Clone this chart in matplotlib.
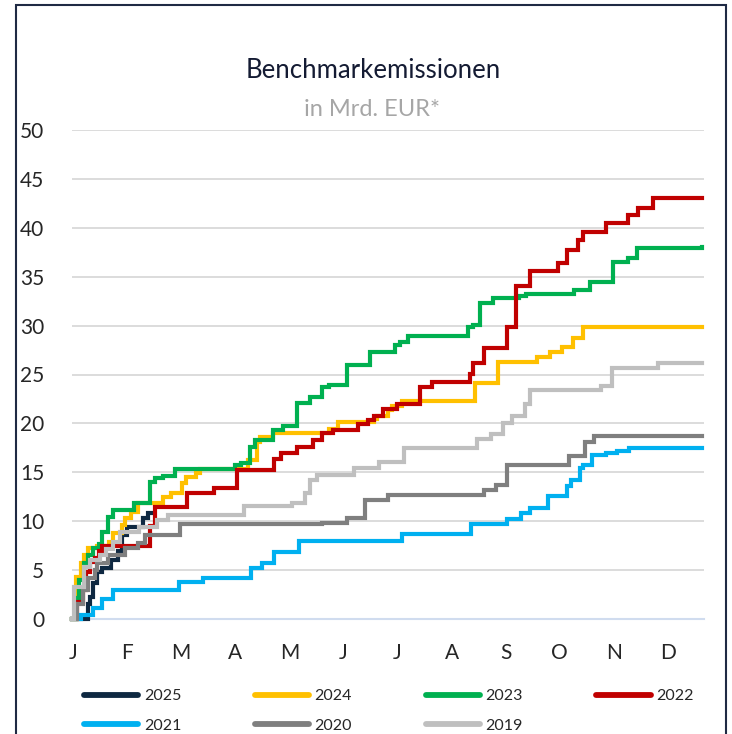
import matplotlib.pyplot as plt
from matplotlib.lines import Line2D
from matplotlib.patches import Rectangle

plt.rcParams['font.family'] = ['Lato', 'DejaVu Sans']

# day of year where a step starts, cumulative volume (bn EUR)
d2025 = [0, 7, 9, 10, 12, 14, 17, 22, 26, 28, 31, 40, 43, 46]
v2025 = [0, 0, 1.5, 2.2, 3.7, 4.8, 5.2, 6.0, 7.0, 8.6, 9.4, 10.3, 10.8, 10.8]

d2024 = [0, 2, 5, 7, 9, 14, 21, 23, 28, 30, 33, 37, 51, 56, 62, 64, 70, 72, 99, 104, 106,
         113, 145, 150, 170, 172, 178, 180, 186, 227, 240, 262, 269, 276, 282, 288, 355]
v2024 = [0, 4.3, 5.7, 6.5, 7.3, 7.5, 7.9, 8.8, 9.6, 10.3, 10.9, 11.9, 12.5, 12.9, 13.9, 14.5, 14.9, 15.3, 16.3, 18.1, 18.6,
         19.0, 19.4, 20.1, 20.4, 20.8, 21.4, 21.8, 22.3, 24.1, 26.3, 26.8, 27.3, 27.8, 28.7, 29.9, 29.9]

d2023 = [0, 2, 4, 7, 9, 12, 15, 17, 20, 23, 35, 44, 47, 51, 58, 92, 95, 100, 103, 113, 119, 127, 134, 141,
         145, 155, 168, 182, 185, 189, 223, 226, 230, 237, 252, 256, 283, 292, 305, 313, 318, 355]
v2023 = [0, 2.1, 4.0, 5.7, 6.5, 7.3, 7.7, 8.9, 10.4, 11.1, 11.9, 14.0, 14.4, 14.6, 15.3, 15.7, 15.9, 17.6, 18.3, 19.3, 19.7, 22.1, 22.7, 23.7,
         23.9, 26.0, 27.3, 28.0, 28.3, 28.9, 29.9, 30.1, 32.3, 32.8, 33.0, 33.2, 33.6, 34.5, 36.5, 36.9, 37.9, 38.0]

d2022 = [0, 3, 6, 8, 10, 13, 15, 17, 44, 47, 65, 80, 93, 114, 118, 127, 136, 141, 147, 161, 167, 170, 175,
         183, 196, 203, 224, 226, 232, 245, 250, 258, 274, 279, 285, 288, 301, 313, 319, 327, 355]
v2022 = [0, 1.7, 3.0, 4.8, 5.8, 6.2, 7.0, 7.5, 9.5, 11.5, 12.9, 13.4, 15.2, 16.4, 17.0, 17.6, 18.3, 19.0, 19.3, 19.9, 20.3, 20.8, 21.5,
         22.0, 23.7, 24.2, 25.1, 26.2, 27.7, 29.9, 34.0, 35.6, 36.4, 37.7, 38.8, 39.6, 40.5, 41.3, 42.0, 43.0, 43.0]

d2021 = [0, 5, 12, 17, 23, 60, 74, 101, 107, 114, 128, 186, 225, 245, 253, 258, 268, 279, 281, 286, 288,
         293, 301, 307, 314, 355]
v2021 = [0, 0.4, 1.1, 2.0, 3.0, 3.8, 4.2, 5.2, 5.7, 6.8, 8.0, 8.7, 9.7, 10.2, 10.8, 11.3, 12.6, 13.6, 14.2, 15.4, 15.7,
         16.8, 17.0, 17.2, 17.5, 17.5]

d2020 = [0, 3, 6, 9, 13, 14, 20, 30, 37, 41, 61, 141, 155, 165, 178, 232, 239, 245, 280, 289, 294, 355]
v2020 = [0, 1.5, 3.0, 4.2, 5.0, 5.7, 6.5, 7.3, 7.8, 8.6, 9.7, 9.8, 10.3, 12.2, 12.7, 13.2, 13.7, 15.7, 16.7, 18.1, 18.7, 18.7]

d2019 = [0, 1, 7, 10, 16, 19, 23, 27, 38, 48, 54, 97, 124, 131, 134, 138, 159, 173, 187, 228, 236, 243,
         248, 255, 258, 298, 304, 330, 355]
v2019 = [0, 3.3, 5.3, 6.0, 6.5, 7.2, 7.9, 8.9, 9.4, 10.1, 10.6, 11.6, 11.9, 12.9, 14.2, 14.7, 15.4, 16.1, 17.5, 18.4, 18.9, 20.0,
         20.8, 22.0, 23.4, 23.8, 25.7, 26.2, 26.2]

years = ['2025', '2024', '2023', '2022', '2021', '2020', '2019']
days = [d2025, d2024, d2023, d2022, d2021, d2020, d2019]
values = [v2025, v2024, v2023, v2022, v2021, v2020, v2019]
colors = ['#0E2841', '#FFC000', '#00B050', '#C00000', '#00B0F0', '#7F7F7F', '#BFBFBF']

months = ['J', 'F', 'M', 'A', 'M', 'J', 'J', 'A', 'S', 'O', 'N', 'D']
month_pos = [0.5 + i * 30.47 for i in range(12)]

fig = plt.figure(figsize=(7.32, 7.34), dpi=100)
ax = fig.add_axes([72 / 732, 1 - 619 / 734, (704 - 72) / 732, (619 - 130) / 734])

for y in range(5, 51, 5):
    ax.axhline(y, color='#D9D9D9', lw=1.3, zorder=0)
ax.axhline(0, color='#D0DCEF', lw=1.5, zorder=0, clip_on=False)

for yr, d, v, c in zip(years, days, values, colors):
    ax.plot(d, v, drawstyle='steps-post', color=c, lw=3.0, label=yr,
            solid_joinstyle='miter', clip_on=False)

ax.set_xlim(0, 356)
ax.set_ylim(0, 50)
ax.set_yticks(range(0, 51, 5))
ax.set_xticks(month_pos)
ax.set_xticklabels(months)
ax.tick_params(axis='both', length=0, labelsize=15, colors='#262626')
ax.tick_params(axis='y', pad=20)
ax.tick_params(axis='x', pad=17)
for s in ax.spines.values():
    s.set_visible(False)

fig.text(373 / 732, 1 - 70 / 734, 'Benchmarkemissionen', ha='center', va='center',
         fontsize=18.5, color='#141B33')
fig.text(372 / 732, 1 - 109 / 734, 'in Mrd. EUR*', ha='center', va='center',
         fontsize=17, color='#A6A6A6')

# legend filled column-wise, so reorder to get rows 2025-2022 / 2021-2019
order = [0, 4, 1, 5, 2, 6, 3]
handles = [Line2D([0], [0], color=colors[i], lw=4.2, solid_capstyle='round') for i in order]
labels = [years[i] for i in order]
fig.legend(handles, labels, loc='upper left', bbox_to_anchor=(84 / 732, 1 - 689 / 734),
           ncol=4, frameon=False, fontsize=11.5, handlelength=3.4, handletextpad=0.35,
           columnspacing=4.6, labelspacing=0.95, borderpad=0, borderaxespad=0,
           labelcolor='#262626')

fig.patches.append(Rectangle((16 / 732, -0.05), (726 - 16) / 732, 1.05 - 5 / 734,
                             transform=fig.transFigure, fill=False,
                             edgecolor='#1F2A44', lw=1.5))

fig.savefig('out.png', dpi=100)
